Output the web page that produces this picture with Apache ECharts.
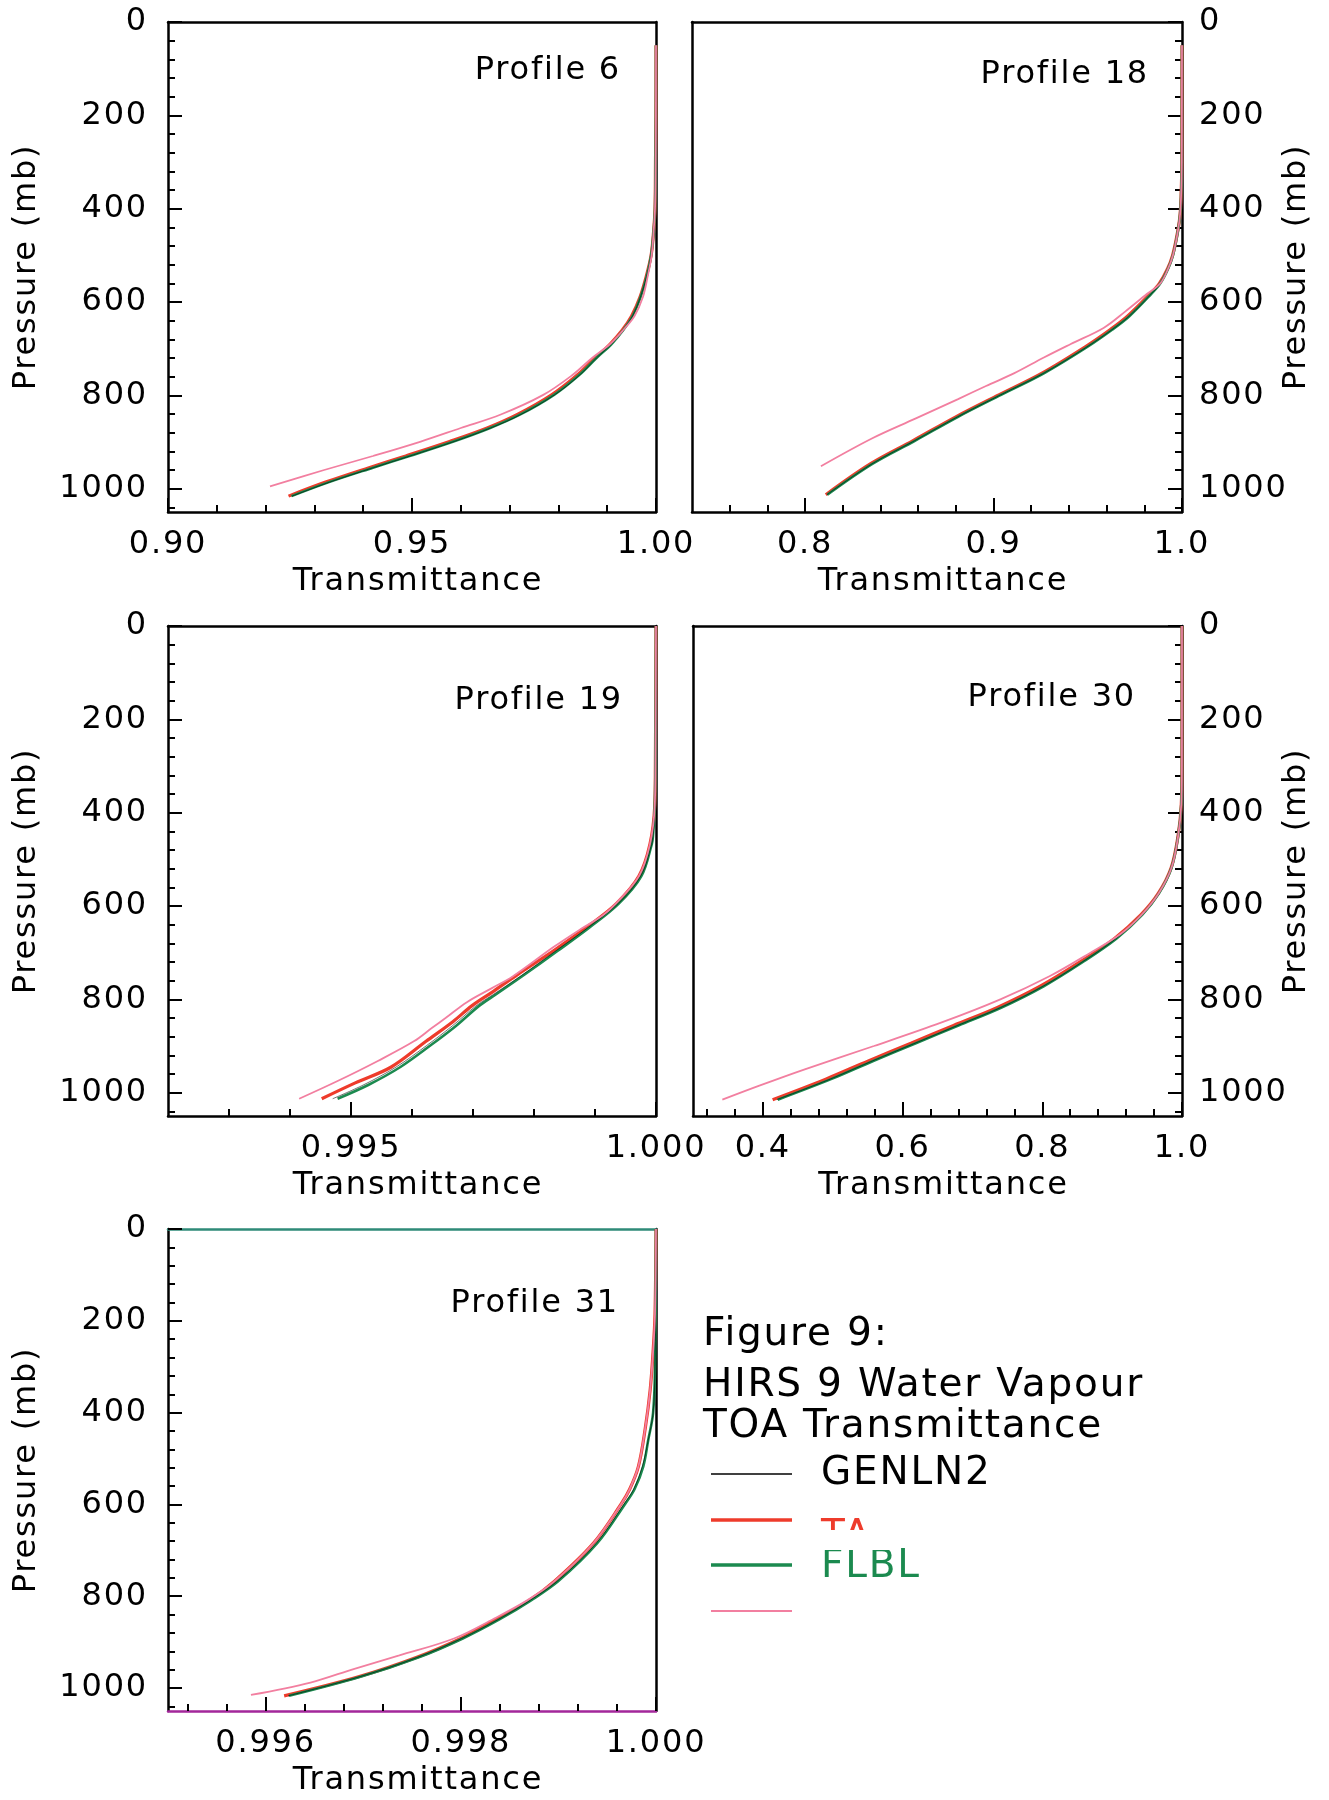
<!DOCTYPE html>
<html><head><meta charset="utf-8">
<script src="https://cdn.jsdelivr.net/npm/echarts@6.0.0/dist/echarts.min.js"></script>
<style>html,body{margin:0;padding:0;background:#fff}#c{width:1329px;height:1800px}</style>
</head><body><div id="c"></div>
<script>
// ---------------- DATA ----------------
const PRESSURE_TICKS = [0, 200, 400, 600, 800, 1000];
const PRESSURE_MINOR = [40, 80, 120, 160, 240, 280, 320, 360, 440, 480, 520, 560, 640, 680, 720, 760, 840, 880, 920, 960, 1040];

// Profile 6
const P6_X_TICKS = [0.90, 0.95, 1.00];
const P6_X_MINOR = [0.91, 0.92, 0.93, 0.94, 0.96, 0.97, 0.98, 0.99];
const P6_PRES = [50, 200, 300, 400, 450, 500, 545, 590, 630, 660, 690, 720, 757, 799, 841, 870, 899, 930, 955, 986, 1016];
const P6_TA = [1.0000, 0.99998, 0.99990, 0.99980, 0.99950, 0.99900, 0.99800, 0.99670, 0.99500, 0.99310, 0.99060, 0.98750, 0.98380, 0.97860, 0.97160, 0.96540, 0.95770, 0.94870, 0.94120, 0.93230, 0.92470];
const P6_FLBL = [1.0000, 0.99998, 0.99990, 0.99980, 0.99950, 0.99900, 0.99810, 0.99680, 0.99520, 0.99330, 0.99090, 0.98780, 0.98420, 0.97910, 0.97220, 0.96600, 0.95850, 0.94950, 0.94200, 0.93300, 0.92530];
const P6_GENLN2 = [1.0000, 0.99998, 0.99990, 0.99980, 0.99950, 0.99900, 0.99810, 0.99680, 0.99520, 0.99330, 0.99090, 0.98780, 0.98430, 0.97920, 0.97230, 0.96610, 0.95860, 0.94960, 0.94210, 0.93310, 0.92540];
const P6_PINK_PRES = [50, 200, 300, 400, 450, 500, 545, 590, 630, 660, 690, 720, 757, 799, 841, 870, 899, 930, 960, 995];
const P6_PINK = [1.0000, 0.99998, 0.99992, 0.99980, 0.99950, 0.99910, 0.99830, 0.99730, 0.99560, 0.99330, 0.99060, 0.98690, 0.98280, 0.97690, 0.96820, 0.96000, 0.95180, 0.94200, 0.93200, 0.92090];

// Profile 18
const P18_X_TICKS = [0.8, 0.9, 1.0];
const P18_X_MINOR = [0.76, 0.78, 0.82, 0.84, 0.86, 0.88, 0.92, 0.94, 0.96, 0.98];
const P18_PRES = [50, 200, 300, 375, 420, 460, 500, 528, 560, 583, 630, 659, 697, 753, 799, 846, 897, 947, 1013];
const P18_TA = [1.0000, 0.99995, 0.99990, 0.99950, 0.99880, 0.99720, 0.99500, 0.99240, 0.98800, 0.98300, 0.97120, 0.96200, 0.94830, 0.92550, 0.90280, 0.88000, 0.85730, 0.83460, 0.81100];
const P18_FLBL = [1.0000, 0.99995, 0.99990, 0.99950, 0.99880, 0.99730, 0.99520, 0.99270, 0.98850, 0.98360, 0.97220, 0.96310, 0.94950, 0.92670, 0.90400, 0.88120, 0.85850, 0.83570, 0.81180];
const P18_GENLN2 = [1.0000, 0.99995, 0.99990, 0.99950, 0.99880, 0.99730, 0.99520, 0.99270, 0.98850, 0.98360, 0.97210, 0.96300, 0.94930, 0.92650, 0.90380, 0.88100, 0.85830, 0.83550, 0.81160];
const P18_PINK_PRES = [50, 200, 300, 375, 420, 460, 500, 528, 560, 583, 620, 655, 690, 719, 753, 780, 808, 850, 892, 952];
const P18_PINK = [1.0000, 0.99995, 0.99990, 0.99950, 0.99880, 0.99730, 0.99520, 0.99270, 0.98850, 0.98130, 0.97000, 0.95860, 0.94100, 0.92670, 0.91080, 0.89600, 0.88120, 0.85850, 0.83570, 0.80840];

// Profile 19
const P19_X_TICKS = [0.995, 1.000];
const P19_X_MINOR = [0.993, 0.994, 0.996, 0.997, 0.998, 0.999];
const P19_PRES = [0, 300, 384, 451, 468, 536, 595, 646, 696, 751, 789, 814, 857, 899, 945, 983, 1013];
const P19_FLBL = [1.0, 0.99999, 0.99998, 0.99995, 0.99993, 0.99976, 0.99939, 0.99891, 0.99839, 0.99780, 0.99738, 0.99710, 0.99672, 0.99630, 0.99581, 0.99529, 0.99478];
const P19_GENLN2 = [1.0, 0.99999, 0.99998, 0.99995, 0.99993, 0.99975, 0.99938, 0.99889, 0.99836, 0.99777, 0.99734, 0.99705, 0.99666, 0.99624, 0.99574, 0.99521, 0.99470];
const P19_TA_PRES = [0, 300, 384, 468, 536, 595, 641, 696, 747, 785, 814, 848, 890, 945, 979, 1013];
const P19_TA = [1.0, 0.99999, 0.99998, 0.99990, 0.99972, 0.99935, 0.99891, 0.99832, 0.99773, 0.99731, 0.99698, 0.99667, 0.99623, 0.99566, 0.99507, 0.99452];
const P19_PINK_PRES = [0, 300, 384, 468, 536, 595, 620, 650, 688, 751, 776, 806, 840, 861, 890, 932, 975, 1013];
const P19_PINK = [1.0, 0.99999, 0.99998, 0.99990, 0.99972, 0.99934, 0.99913, 0.99876, 0.99832, 0.99765, 0.99731, 0.99690, 0.99655, 0.99633, 0.99603, 0.99544, 0.99478, 0.99415];

// Profile 30
const P30_X_TICKS = [0.4, 0.6, 0.8, 1.0];
const P30_X_MINOR = [0.32, 0.36, 0.44, 0.48, 0.52, 0.56, 0.64, 0.68, 0.72, 0.76, 0.84, 0.88, 0.92, 0.96];
const P30_PRES = [0, 300, 382, 450, 518, 573, 619, 670, 721, 772, 818, 856, 894, 932, 971, 1015];
const P30_TA = [1.0, 0.9999, 0.9990, 0.9943, 0.9845, 0.9660, 0.9410, 0.9030, 0.8530, 0.7970, 0.7350, 0.6730, 0.6120, 0.5510, 0.4900, 0.4140];
const P30_FLBL = [1.0, 0.9999, 0.9990, 0.9945, 0.9850, 0.9670, 0.9430, 0.9060, 0.8570, 0.8020, 0.7410, 0.6800, 0.6190, 0.5580, 0.4976, 0.4213];
const P30_GENLN2 = [1.0, 0.9999, 0.9990, 0.9945, 0.9850, 0.9668, 0.9427, 0.9055, 0.8563, 0.8012, 0.7400, 0.6790, 0.6180, 0.5570, 0.4965, 0.4200];
const P30_PINK_PRES = [0, 300, 382, 450, 518, 573, 619, 660, 700, 750, 800, 850, 900, 950, 985, 1015];
const P30_PINK = [1.0, 0.9999, 0.9990, 0.9945, 0.9850, 0.9665, 0.9420, 0.9120, 0.8690, 0.8110, 0.7400, 0.6550, 0.5590, 0.4600, 0.3950, 0.3420];

// Profile 31
const P31_X_TICKS = [0.996, 0.998, 1.000];
const P31_X_MINOR = [0.9952, 0.9956, 0.9964, 0.9968, 0.9972, 0.9976, 0.9984, 0.9988, 0.9992, 0.9996];
const P31_PRES = [0, 300, 401, 460, 517, 567, 600, 684, 767, 809, 850, 892, 933, 975, 1017];
const P31_FLBL = [1.0, 0.99999, 0.99997, 0.99992, 0.99987, 0.99978, 0.99968, 0.99940, 0.99900, 0.99872, 0.99840, 0.99802, 0.99757, 0.99698, 0.99624];
const P31_GENLN2 = [1.0, 0.99999, 0.99997, 0.99992, 0.99986, 0.99977, 0.99967, 0.99939, 0.99899, 0.99871, 0.99839, 0.99801, 0.99756, 0.99697, 0.99623];
const P31_TA_PRES = [0, 185, 268, 351, 434, 517, 567, 600, 684, 767, 809, 850, 892, 933, 975, 1017];
const P31_TA = [1.0, 0.99999, 0.99997, 0.99994, 0.99989, 0.99982, 0.99973, 0.99964, 0.99936, 0.99896, 0.99870, 0.99837, 0.99800, 0.99755, 0.99696, 0.99619];
const P31_PINK_PRES = [0, 185, 268, 351, 434, 517, 567, 600, 684, 767, 809, 850, 892, 929, 958, 988, 1015];
const P31_PINK = [1.0, 0.99999, 0.99997, 0.99994, 0.99989, 0.99982, 0.99973, 0.99964, 0.99936, 0.99896, 0.99868, 0.99833, 0.99793, 0.99737, 0.99691, 0.99646, 0.99585];

const SERIES_NAMES = ['GENLN2', 'TA', 'FLBL'];
const TITLE_LINES = ['Figure 9:', 'HIRS 9 Water Vapour', 'TOA Transmittance'];

// ---------------- STYLE / LAYOUT ----------------
// wide letter spacing like the plotter font of the original
(function () {
  const proto = window.CanvasRenderingContext2D && CanvasRenderingContext2D.prototype;
  if (!proto) return;
  const desc = Object.getOwnPropertyDescriptor(proto, 'font');
  if (!desc || !desc.set) return;
  Object.defineProperty(proto, 'font', {
    configurable: true,
    get: function () { return desc.get.call(this); },
    set: function (v) { desc.set.call(this, v); if ('letterSpacing' in this) this.letterSpacing = '1.8px'; }
  });
})();

const FONT = 'DejaVu Sans';
const C_RED = '#ee3b2b', C_GREEN = '#1b8a4f', C_PINK = '#f27fa0', C_BLACK = '#000';

const panels = [
  { label: 'Profile 6', grid: {left: 168, top: 22, width: 488, height: 490}, side: 'left',
    xmin: 0.90, xmax: 1.00, ticks: P6_X_TICKS, minor: P6_X_MINOR, dec: 2,
    ta: [P6_PRES, P6_TA], flbl: [P6_PRES, P6_FLBL], gen: [P6_PRES, P6_GENLN2], pink: [P6_PINK_PRES, P6_PINK],
    tx: 621, ty: 71 },
  { label: 'Profile 18', grid: {left: 692, top: 22, width: 490, height: 490}, side: 'right',
    xmin: 0.74, xmax: 1.00, ticks: P18_X_TICKS, minor: P18_X_MINOR, dec: 1,
    ta: [P18_PRES, P18_TA], flbl: [P18_PRES, P18_FLBL], gen: [P18_PRES, P18_GENLN2], pink: [P18_PINK_PRES, P18_PINK],
    tx: 1149, ty: 75 },
  { label: 'Profile 19', grid: {left: 168, top: 626, width: 488, height: 490}, side: 'left',
    xmin: 0.992, xmax: 1.000, ticks: P19_X_TICKS, minor: P19_X_MINOR, dec: 3,
    ta: [P19_TA_PRES, P19_TA], flbl: [P19_PRES, P19_FLBL], gen: [P19_PRES, P19_GENLN2], pink: [P19_PINK_PRES, P19_PINK],
    tx: 623, ty: 701 },
  { label: 'Profile 30', grid: {left: 693, top: 626, width: 489, height: 490}, side: 'right',
    xmin: 0.30, xmax: 1.00, ticks: P30_X_TICKS, minor: P30_X_MINOR, dec: 1,
    ta: [P30_PRES, P30_TA], flbl: [P30_PRES, P30_FLBL], gen: [P30_PRES, P30_GENLN2], pink: [P30_PINK_PRES, P30_PINK],
    tx: 1136, ty: 698 },
  { label: 'Profile 31', grid: {left: 168, top: 1229, width: 488, height: 482}, side: 'left',
    xmin: 0.995, xmax: 1.000, ticks: P31_X_TICKS, minor: P31_X_MINOR, dec: 3,
    ta: [P31_TA_PRES, P31_TA], flbl: [P31_PRES, P31_FLBL], gen: [P31_PRES, P31_GENLN2], pink: [P31_PINK_PRES, P31_PINK],
    tx: 619, ty: 1304, topColor: '#2f8a78', bottomColor: '#a3279b' }
];

const textStyle = {color: '#000', fontSize: 32, fontFamily: FONT};
const grids = [], xAxes = [], yAxes = [], series = [], graphics = [];

function pairs(pv) { return pv[0].map((p, k) => [pv[1][k], p]); }

panels.forEach((P, i) => {
  grids.push(Object.assign({show: false, outerBoundsMode: 'none', containLabel: false}, P.grid));
  const lineW = 2.5;
  xAxes.push({
    type: 'value', gridIndex: i, min: P.xmin, max: P.xmax, position: 'bottom',
    axisLine: {show: true, onZero: false, lineStyle: {color: P.bottomColor || C_BLACK, width: lineW}},
    axisTick: {show: true, inside: true, length: 14, lineStyle: {color: C_BLACK, width: 2}, customValues: P.ticks},
    axisLabel: Object.assign({show: true, customValues: P.ticks, margin: 16, formatter: v => Number(v).toFixed(P.dec),
      showMinLabel: true, showMaxLabel: true, hideOverlap: false}, textStyle),
    splitLine: {show: false},
    name: 'Transmittance', nameLocation: 'middle', nameGap: 53, nameMoveOverlap: false,
    nameTextStyle: Object.assign({padding: [0, 0, 0, 12]}, textStyle)
  });
  xAxes.push({
    type: 'value', gridIndex: i, min: P.xmin, max: P.xmax, position: 'bottom',
    axisLine: {show: false, onZero: false},
    axisTick: {show: true, inside: true, length: 7, lineStyle: {color: C_BLACK, width: 2}, customValues: P.minor},
    axisLabel: {show: false}, splitLine: {show: false}
  });
  xAxes.push({
    type: 'value', gridIndex: i, min: P.xmin, max: P.xmax, position: 'top',
    axisLine: {show: true, onZero: false, lineStyle: {color: P.topColor || C_BLACK, width: lineW}},
    axisTick: {show: false}, axisLabel: {show: false}, splitLine: {show: false}
  });
  const other = P.side === 'left' ? 'right' : 'left';
  yAxes.push({
    type: 'value', gridIndex: i, min: 0, max: 1050, inverse: true, position: P.side,
    axisLine: {show: true, onZero: false, lineStyle: {color: C_BLACK, width: lineW}},
    axisTick: {show: true, inside: true, length: 14, lineStyle: {color: C_BLACK, width: 2}, customValues: PRESSURE_TICKS},
    axisLabel: Object.assign({show: true, customValues: PRESSURE_TICKS, margin: P.side === 'left' ? 20 : 17,
      formatter: v => String(Math.round(v)), showMinLabel: true, showMaxLabel: true, hideOverlap: false}, textStyle),
    splitLine: {show: false},
    name: 'Pressure (mb)', nameLocation: 'middle', nameRotate: 90, nameGap: P.side === 'left' ? 124 : 98,
    nameMoveOverlap: false, nameTextStyle: textStyle
  });
  yAxes.push({
    type: 'value', gridIndex: i, min: 0, max: 1050, inverse: true, position: P.side,
    axisLine: {show: false, onZero: false},
    axisTick: {show: true, inside: true, length: 7, lineStyle: {color: C_BLACK, width: 2}, customValues: PRESSURE_MINOR},
    axisLabel: {show: false}, splitLine: {show: false}
  });
  yAxes.push({
    type: 'value', gridIndex: i, min: 0, max: 1050, inverse: true, position: other,
    axisLine: {show: true, onZero: false, lineStyle: {color: C_BLACK, width: lineW}},
    axisTick: {show: false}, axisLabel: {show: false}, splitLine: {show: false}
  });
  const base = {type: 'line', xAxisIndex: i * 3, yAxisIndex: i * 3, showSymbol: false, symbol: 'none',
    smooth: 0.35, clip: false, silent: true, animation: false};
  series.push(Object.assign({}, base, {name: SERIES_NAMES[1], data: pairs(P.ta), lineStyle: {color: C_RED, width: 3.2}, z: 2}));
  series.push(Object.assign({}, base, {name: SERIES_NAMES[2], data: pairs(P.flbl), lineStyle: {color: C_GREEN, width: 2.6}, z: 3}));
  series.push(Object.assign({}, base, {name: SERIES_NAMES[0], data: pairs(P.gen), lineStyle: {color: C_BLACK, width: 1, opacity: 0.55}, z: 4}));
  series.push(Object.assign({}, base, {name: '', data: pairs(P.pink), lineStyle: {color: C_PINK, width: 1.8}, z: 5}));
  graphics.push({type: 'text', x: P.tx, y: P.ty, z: 10,
    style: {text: P.label, fill: '#000', fontSize: 32, fontFamily: FONT, font: '32px "DejaVu Sans"',
      textAlign: 'right', align: 'right', textVerticalAlign: 'middle', verticalAlign: 'middle'}});
});

const LEG_FONT = 39;
function gtext(t, x, y, color) {
  return {type: 'text', x: x, y: y, z: 10,
    style: {text: t, fill: color, fontSize: LEG_FONT, fontFamily: FONT, font: LEG_FONT + 'px "DejaVu Sans"',
      textAlign: 'left', align: 'left', textVerticalAlign: 'middle', verticalAlign: 'middle'}};
}
graphics.push(gtext(TITLE_LINES[0], 703, 1335, '#000'));
graphics.push(gtext(TITLE_LINES[1], 703, 1386, '#000'));
graphics.push(gtext(TITLE_LINES[2], 703, 1427, '#000'));
graphics.push({type: 'line', z: 10, shape: {x1: 711, y1: 1474, x2: 792, y2: 1474}, style: {stroke: '#000', lineWidth: 1.3}});
graphics.push(gtext(SERIES_NAMES[0], 821, 1474, '#000'));
graphics.push({type: 'line', z: 10, shape: {x1: 711, y1: 1520, x2: 792, y2: 1520}, style: {stroke: C_RED, lineWidth: 3.5}});
graphics.push(gtext(SERIES_NAMES[1], 821, 1537, C_RED));
graphics.push({type: 'rect', z: 11, shape: {x: 812, y: 1530, width: 80, height: 20}, style: {fill: '#fff'}});
graphics.push({type: 'line', z: 10, shape: {x1: 711, y1: 1565, x2: 792, y2: 1565}, style: {stroke: C_GREEN, lineWidth: 3.5}});
graphics.push(gtext(SERIES_NAMES[2], 821, 1567, C_GREEN));
graphics.push({type: 'line', z: 10, shape: {x1: 711, y1: 1611, x2: 792, y2: 1611}, style: {stroke: C_PINK, lineWidth: 2}});

const chart = echarts.init(document.getElementById('c'), null, {renderer: 'canvas'});
chart.setOption({
  backgroundColor: '#fff',
  animation: false,
  grid: grids, xAxis: xAxes, yAxis: yAxes, series: series, graphic: graphics
});
</script></body></html>
